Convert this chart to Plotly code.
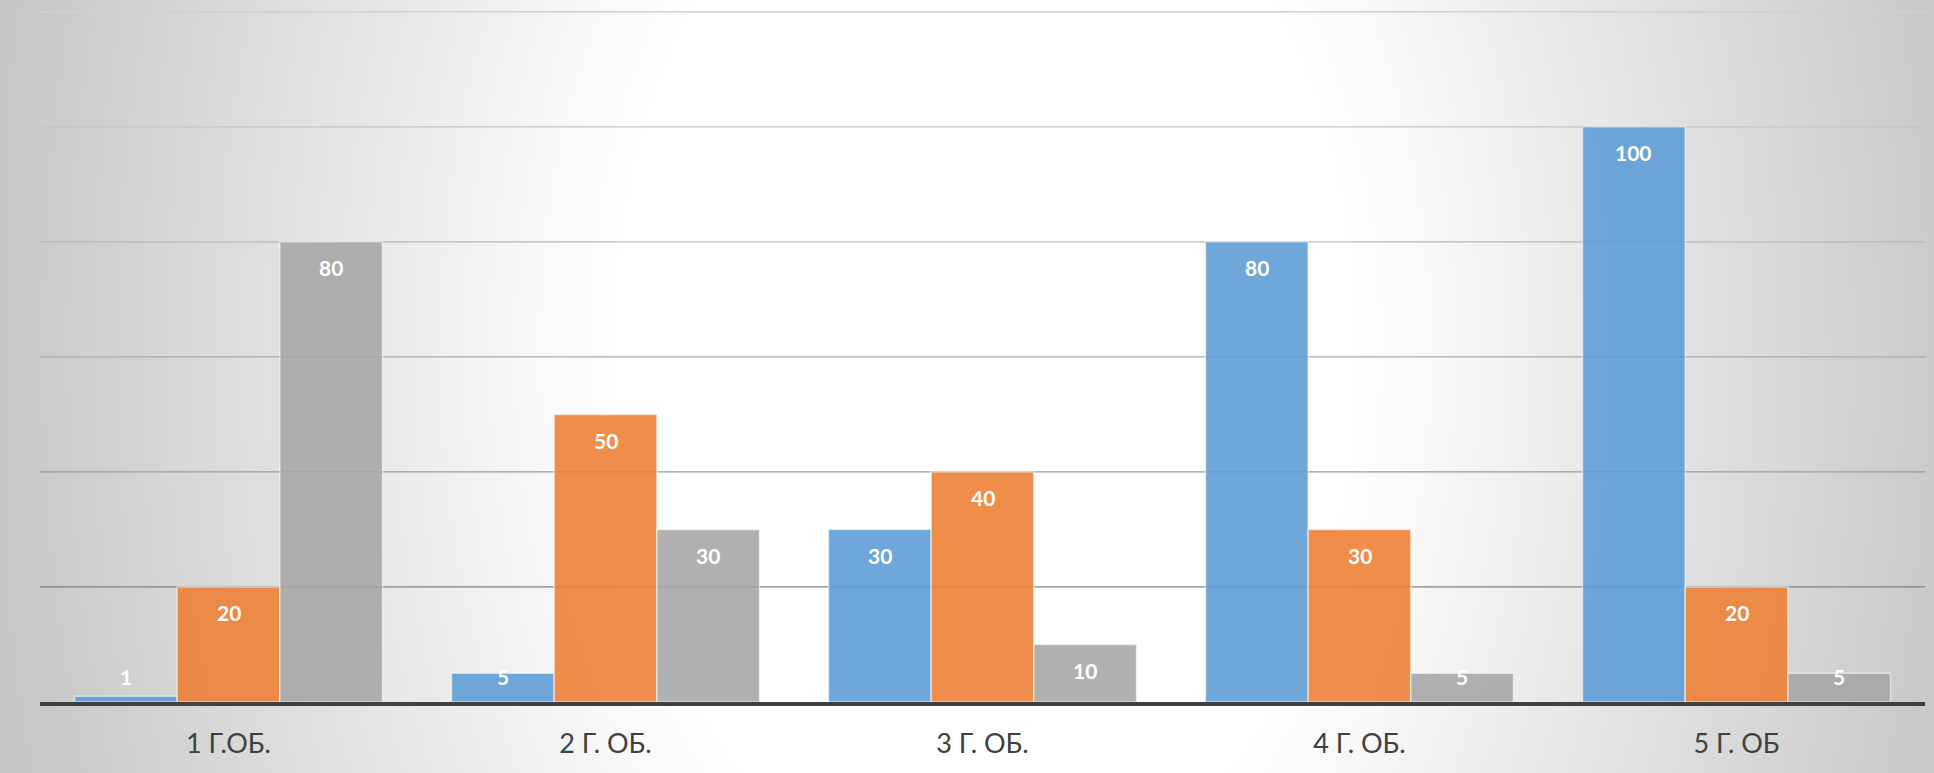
import base64
import plotly.graph_objects as go

categories = ["1 Г.ОБ.", "2 Г. ОБ.", "3 Г. ОБ.", "4 Г. ОБ.", "5 Г. ОБ"]
series_blue = [1, 5, 30, 80, 100]
series_orange = [20, 50, 40, 30, 20]
series_gray = [80, 30, 10, 5, 5]
grid_values = [20, 40, 60, 80, 100, 120]

series = [
    ("Ряд 1", series_blue, "rgba(91,155,213,0.88)"),
    ("Ряд 2", series_orange, "rgba(237,125,49,0.88)"),
    ("Ряд 3", series_gray, "rgba(165,165,165,0.88)"),
]
grid_colors = ["#808080", "#9a9a9a", "#aaaaaa", "#b8b8b8", "#c4c4c4", "#d0d0d0"]

BARGAP = 0.183
W, H = 1934, 773

svg = (
    f"<svg xmlns='http://www.w3.org/2000/svg' width='{W}' height='{H}' viewBox='0 0 {W} {H}' preserveAspectRatio='none'>"
    "<defs><radialGradient id='g' gradientUnits='userSpaceOnUse' cx='0' cy='0' r='1' "
    "gradientTransform='translate(985,350) scale(1000,1500)'>"
    "<stop offset='0' stop-color='#ffffff'/><stop offset='0.37' stop-color='#ffffff'/>"
    "<stop offset='1' stop-color='#c6c6c6'/></radialGradient></defs>"
    f"<rect width='{W}' height='{H}' fill='url(#g)'/>"
    f"<rect x='0' y='0' width='9' height='{H}' fill='#c6c6c6'/></svg>"
)
bg_uri = "data:image/svg+xml;base64," + base64.b64encode(svg.encode()).decode()

ML, MR, MT, MB = 40, 9, 6, 71

fig = go.Figure()
for name, vals, col in series:
    fig.add_trace(go.Bar(
        x=categories, y=vals, name=name,
        marker=dict(color=col, line=dict(color="rgba(255,255,255,0.55)", width=1.5)),
        hoverinfo="x+y",
    ))

# data labels (inside end, Excel style)
bw = (1 - BARGAP) / len(series)
annotations = []
for k, (name, vals, col) in enumerate(series):
    for i, v in enumerate(vals):
        annotations.append(dict(
            x=i + (k - 1) * bw, y=max(v, 9), xref="x", yref="y",
            text=f"<b>{v}</b>", showarrow=False, yshift=-26, yanchor="middle",
            font=dict(family="Lato", size=21, color="white"),
        ))

shapes = []
for gv, gc in zip(grid_values, grid_colors):
    shapes.append(dict(type="line", xref="paper", x0=0, x1=1, yref="y", y0=gv, y1=gv,
                       line=dict(color=gc, width=1.3), layer="below"))

pw, ph = W - ML - MR, H - MT - MB
fig.update_layout(
    width=W, height=H,
    margin=dict(l=ML, r=MR, t=MT, b=MB),
    paper_bgcolor="#d0d0d0",
    plot_bgcolor="rgba(0,0,0,0)",
    barmode="group", bargap=BARGAP, bargroupgap=0,
    showlegend=False,
    annotations=annotations,
    shapes=shapes,
    images=[dict(source=bg_uri, xref="paper", yref="paper", x=-ML / pw, y=1 + MT / ph,
                 sizex=W / pw, sizey=H / ph, xanchor="left", yanchor="top",
                 sizing="stretch", layer="below")],
    xaxis=dict(
        type="category", showgrid=False, ticks="", showline=True, linecolor="#404040", linewidth=4,
        tickfont=dict(family="Lato", size=27, color="#404040"), ticklabelstandoff=15,
        zeroline=False,
    ),
    yaxis=dict(range=[0, 121], showgrid=False, showticklabels=False, zeroline=False, showline=False),
)

fig.write_html(
    "out.html",
    config={"displayModeBar": False},
    post_script="document.body.style.margin='0';document.body.style.overflow='hidden';",
)
